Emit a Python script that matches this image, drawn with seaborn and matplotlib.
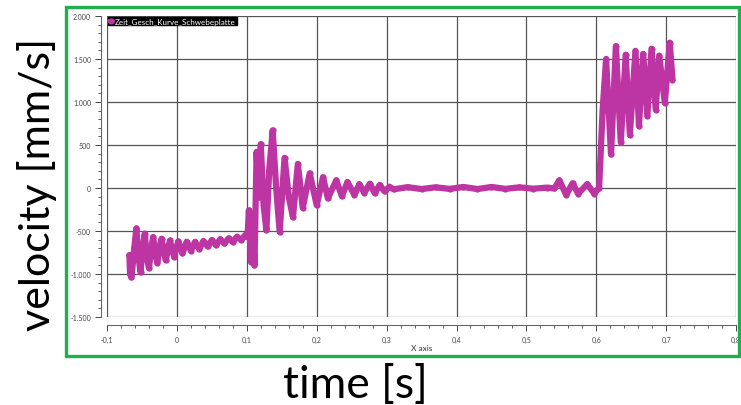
import matplotlib.pyplot as plt
import matplotlib.ticker as mticker
import seaborn as sns
from matplotlib.patches import Rectangle

sns.set_theme(style="white")
plt.rcParams["font.family"] = ["Lato", "DejaVu Sans"]

# Werte (Extrema der Schwingung)
zeit = [
    -0.068, -0.067, -0.065, -0.061, -0.058, -0.055, -0.052, -0.049, -0.046, -0.043,
    -0.040, -0.037, -0.034, -0.031, -0.028, -0.025, -0.022, -0.016, -0.010, -0.004,
    0.002, 0.008, 0.014, 0.020, 0.026, 0.032, 0.038, 0.044, 0.050, 0.056,
    0.062, 0.068, 0.074, 0.080, 0.086, 0.092, 0.098, 0.101,
    0.103, 0.106, 0.108, 0.111, 0.114, 0.117, 0.120, 0.124, 0.128, 0.132,
    0.137, 0.142, 0.147, 0.154, 0.160, 0.166, 0.173, 0.180, 0.190, 0.200,
    0.209, 0.216, 0.228, 0.236, 0.244, 0.254, 0.261, 0.268, 0.276, 0.283,
    0.290, 0.297, 0.304,
    0.31, 0.33, 0.35, 0.37, 0.39, 0.41, 0.43, 0.45, 0.47, 0.49, 0.51, 0.53,
    0.540, 0.547, 0.557, 0.566, 0.574, 0.587, 0.597, 0.604, 0.609,
    0.614, 0.621, 0.628, 0.635, 0.642, 0.648, 0.656, 0.661, 0.667, 0.673,
    0.679, 0.685, 0.690, 0.698, 0.705, 0.709,
]
geschw = [
    -780, -1000, -1040, -700, -470, -800, -980, -700, -530, -800,
    -930, -720, -570, -760, -870, -700, -590, -840, -610, -800,
    -620, -760, -625, -730, -625, -710, -615, -680, -605, -665,
    -595, -645, -585, -630, -565, -605, -545, -570,
    -260, -860, -310, -900, 420, -110, 510, -200, -490, 200,
    670, 0, -510, 350, -100, -340, 280, -230, 170, -200,
    125, -120, 90, -95, 70, -80, 45, -55, 50, -60,
    35, -40, 15,
    -15, 10, -12, 8, -10, 12, -12, 12, -10, 8, -8, 5,
    -5, 90, -80, 55, -65, 45, -65, 0, 900,
    1500, 390, 1650, 530, 1550, 620, 1595, 720, 1560, 840,
    1620, 910, 1540, 990, 1690, 1260,
]

x_ticks = [-0.1, 0.0, 0.1, 0.2, 0.3, 0.4, 0.5, 0.6, 0.7, 0.8]
x_labels = ["-0,1", "0", "0,1", "0,2", "0,3", "0,4", "0,5", "0,6", "0,7", "0,8"]
y_ticks = [-1500, -1000, -500, 0, 500, 1000, 1500, 2000]
y_labels = ["-1.500", "-1.000", "-500", "0", "500", "1.000", "1.500", "2.000"]

farbe = "#BC35A3"

fig = plt.figure(figsize=(7.41, 4.06), dpi=100)
ax = fig.add_axes([0.1444, 0.2167, 0.849, 0.7414])

sns.lineplot(x=zeit, y=geschw, sort=False, estimator=None, color=farbe, lw=4.5,
             marker="o", markersize=4.5, markeredgewidth=0, ax=ax,
             label="Zeit_Gesch_Kurve_Schwebeplatte")

ax.set_xlim(-0.1, 0.8)
ax.set_ylim(-1500, 2000)
ax.set_xticks(x_ticks)
ax.set_xticklabels(x_labels)
ax.set_yticks(y_ticks)
ax.set_yticklabels(y_labels)
ax.xaxis.set_minor_locator(mticker.MultipleLocator(0.02))
ax.yaxis.set_minor_locator(mticker.MultipleLocator(100))
ax.grid(True, which="major", color="#555555", lw=0.9)
ax.tick_params(axis="both", which="major", labelsize=5, colors="#444444",
               length=4, width=0.7, direction="out", bottom=True, left=True)
ax.tick_params(axis="both", which="minor", length=2, width=0.6, color="#444444",
               direction="out", bottom=True, left=True)
for s in ["top", "right"]:
    ax.spines[s].set_visible(False)
ax.spines["bottom"].set_position(("outward", 6))
ax.spines["left"].set_position(("outward", 4))
for s in ["bottom", "left"]:
    ax.spines[s].set_color("#666666")
    ax.spines[s].set_linewidth(0.8)
ax.set_xlabel("X axis", fontsize=6, color="#333333", labelpad=1)
ax.set_ylabel("")

leg = ax.legend(loc="upper left", fontsize=5.8, frameon=True, fancybox=False,
                facecolor="black", edgecolor="black", labelcolor="white",
                borderpad=0.1, handlelength=0.5, handletextpad=0.3,
                borderaxespad=0.1, framealpha=1)
for h in leg.legend_handles:
    h.set_linewidth(3)

fig.patches.append(Rectangle((66 / 741, 1 - 357 / 406), (739 - 66) / 741, (357 - 8) / 406,
                             transform=fig.transFigure, fill=False,
                             edgecolor="#1EB04B", lw=2.4, zorder=10))
fig.text(0.05, 0.545, "velocity [mm/s]", rotation=90, ha="center", va="center",
         fontsize=31, color="black")
fig.text(0.479, 0.05, "time [s]", ha="center", va="center", fontsize=32, color="black")

plt.savefig("out.png", dpi=100)
